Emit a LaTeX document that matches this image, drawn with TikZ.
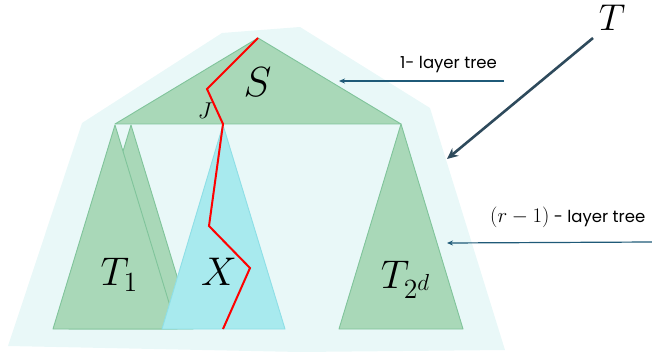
\documentclass[tikz,border=0pt]{standalone}
\usepackage{graphicx}
\usepackage{fontspec}
\newfontfamily\labelfont{Poppins}
\usetikzlibrary{arrows.meta}
\newcommand{\mathlbl}[2]{\scalebox{#1}{\fontsize{20.74}{20.74}\selectfont$#2$}}
\definecolor{bgc}{HTML}{E9F8F8}
\definecolor{grfill}{HTML}{A9D8B8}
\definecolor{grline}{HTML}{80C49B}
\definecolor{cyfill}{HTML}{A8EAEE}
\definecolor{cyline}{HTML}{8EDFE6}
\definecolor{arrc}{HTML}{1F5A78}
\definecolor{arrT}{HTML}{2E4A5C}
\definecolor{pathred}{HTML}{FF0000}
\begin{document}
\begin{tikzpicture}[x=1pt,y=-1pt,
  bgshape/.style={fill=bgc,draw=none},
  gtri/.style={fill=grfill,draw=grline,line width=0.9pt,line join=round},
  ctri/.style={fill=cyfill,draw=cyline,line width=0.9pt,line join=round},
  redpath/.style={draw=pathred,line width=2pt,line join=miter},
  biglbl/.style={inner sep=0pt},
  txtlbl/.style={inner sep=0pt,anchor=base west,font=\labelfont\fontsize{16.5}{16.5}\selectfont},
  thinarrow/.style={draw=arrc,line width=1.2pt,-{Stealth[length=6pt,width=5pt]}},
  thickarrow/.style={draw=arrT,line width=2.6pt,-{Stealth[length=11pt,width=10pt]}}
]
\useasboundingbox (0,0) rectangle (652,358);
% background region
\path[bgshape] (8,346) -- (82,123) -- (222,33) -- (300,27) -- (430,108) -- (505,350) -- (300,352) -- cycle;
% subtree triangles
\path[gtri] (258,38) -- (115,124) -- (401,124) -- cycle;
\path[gtri] (131,125) -- (69,329) -- (193,329) -- cycle;
\path[gtri] (115,125) -- (53,329) -- (177,329) -- cycle;
\path[ctri] (223,125) -- (162,329) -- (285,329) -- cycle;
\path[gtri] (401,124) -- (339,329) -- (463,329) -- cycle;
% red path
\draw[redpath] (258,38) -- (207,89) -- (223,124) -- (209,226) -- (250,268) -- (223,329);
% labels
\node[biglbl] (s) at (257.5,82.5) {\mathlbl{2.03}{S}};
\node[biglbl] (j) at (205,111) {\mathlbl{1.1}{J}};
\node[biglbl] (t1) at (119.5,274.5) {\mathlbl{1.93}{T_1}};
\node[biglbl] (x) at (219,271.5) {\mathlbl{1.93}{X}};
\node[biglbl] (t2d) at (406,280) {\mathlbl{1.93}{T_{2^d}}};
\node[biglbl] (t) at (612,17.5) {\mathlbl{1.8}{T}};
\node[txtlbl] (one) at (400,69) {1- layer tree};
\node[txtlbl] (rone) at (490,222) {\mathlbl{1.0}{(r-1)} - layer tree};
% arrows
\coordinate (a1s) at (504,81);
\coordinate (a1e) at (339,81);
\coordinate (a2s) at (652,242);
\coordinate (a2e) at (447,243);
\coordinate (ats) at (593,38);
\coordinate (ate) at (447,159);
\draw[thinarrow] (a1s) -- (a1e);
\draw[thinarrow] (a2s) -- (a2e);
\draw[thickarrow] (ats) -- (ate);
\end{tikzpicture}
\end{document}
